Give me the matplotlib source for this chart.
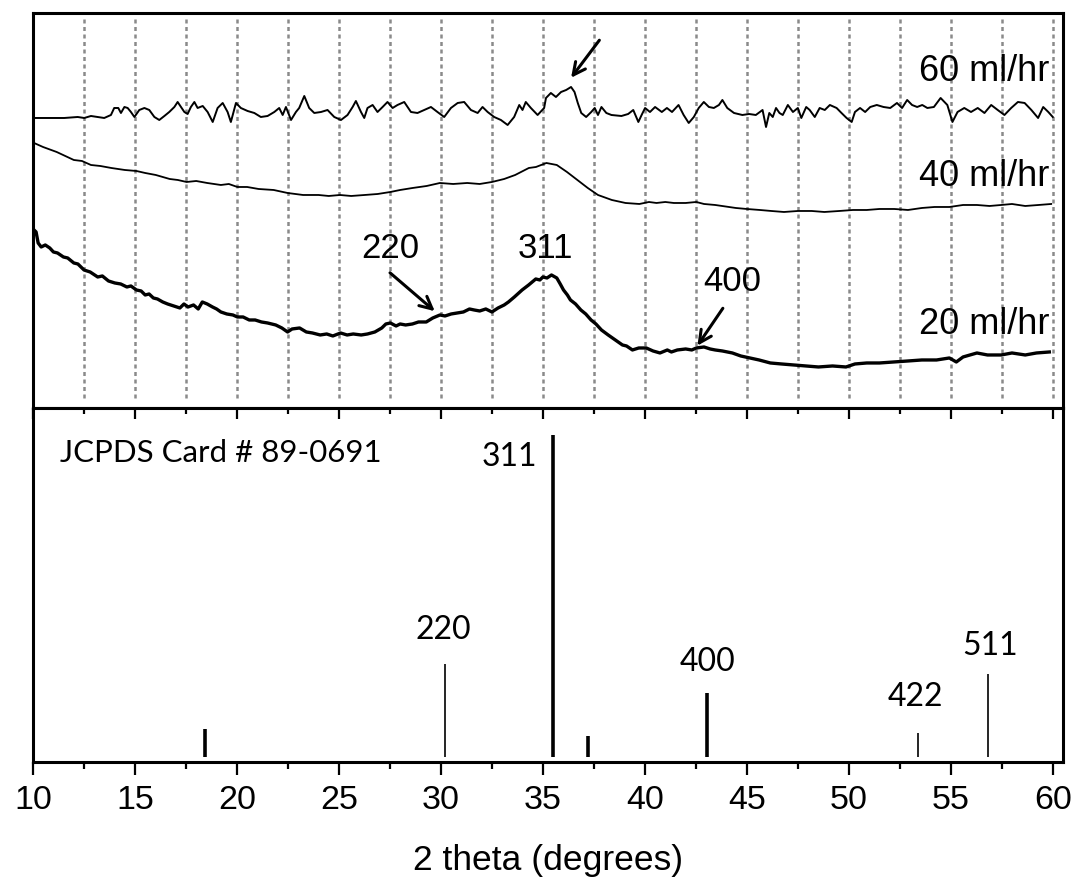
import numpy as np
import matplotlib.pyplot as plt
from matplotlib.ticker import MultipleLocator

# ---- measured traces (2 theta in degrees, intensity in arbitrary units) ----
x60 = [10.05, 11.53, 12.19, 12.51, 12.84, 13.17, 13.49, 13.82, 13.98, 14.18, 14.31, 14.48,
       14.64, 14.80, 14.97, 15.21, 15.46, 15.70, 15.95, 16.19, 16.44, 16.68, 16.93, 17.09,
       17.29, 17.42, 17.58, 17.74, 17.91, 18.07, 18.32, 18.56, 18.81, 19.05, 19.30, 19.54,
       19.70, 19.95, 20.19, 20.52, 20.85, 21.17, 21.50, 21.83, 22.07, 22.24, 22.40, 22.65,
       22.89, 23.05, 23.30, 23.54, 23.79, 24.12, 24.44, 24.77, 25.10, 25.42, 25.67, 25.83,
       26.08, 26.24, 26.40, 26.65, 26.89, 27.14, 27.38, 27.63, 27.87, 28.20, 28.53, 28.85,
       29.18, 29.51, 29.83, 30.16, 30.49, 30.82, 31.14, 31.47, 31.80, 32.04, 32.29, 32.61,
       32.94, 33.27, 33.59, 33.84, 34.00, 34.16, 34.41, 34.74, 35.06,
       35.15, 35.39, 35.64, 35.89, 36.14, 36.38, 36.55, 36.71, 36.88, 37.12, 37.37, 37.54,
       37.70, 37.87, 38.11, 38.36, 38.85, 39.18, 39.43, 39.68, 39.84, 40.01, 40.25, 40.50,
       40.83, 41.08, 41.33, 41.65, 41.90, 42.15, 42.40, 42.64, 42.89, 43.14, 43.38, 43.63,
       43.80, 44.04, 44.37, 44.78, 45.11, 45.44, 45.77, 45.94, 46.10, 46.27, 46.43, 46.60,
       46.76, 47.01, 47.26, 47.50, 47.67, 47.91, 48.08, 48.33, 48.57, 48.82, 49.07, 49.40,
       49.64, 49.89, 50.14, 50.30, 50.55, 50.80, 51.05, 51.37, 51.70, 52.03, 52.36, 52.61,
       52.86, 53.10, 53.35, 53.60, 53.85, 54.17, 54.50, 54.83, 55.08, 55.33, 55.66, 55.99,
       56.32, 56.65, 56.98, 57.30, 57.63, 57.96, 58.29, 58.62, 58.95, 59.28, 59.53, 59.78, 60.0]
y60 = [290, 290, 291, 290, 292, 291, 290, 293, 300, 300, 295, 301,
       300, 296, 291, 298, 300, 298, 291, 288, 292, 296, 301, 306,
       300, 296, 294, 301, 306, 300, 302, 296, 286, 300, 305, 296,
       286, 305, 300, 297, 295, 291, 292, 296, 300, 293, 301, 288,
       296, 300, 312, 300, 295, 296, 298, 291, 288, 293, 301, 307,
       296, 290, 300, 303, 296, 301, 306, 300, 303, 306, 296, 295,
       298, 301, 296, 291, 300, 305, 306, 298, 295, 301, 296, 291,
       288, 283, 291, 303, 298, 306, 300, 293, 300,
       310, 315, 311, 316, 318, 321, 316, 305, 295, 291, 296, 300,
       293, 301, 295, 293, 292, 294, 298, 286, 293, 300, 296, 301,
       296, 300, 296, 303, 293, 285, 291, 300, 306, 301, 300, 303,
       308, 300, 295, 293, 294, 293, 298, 281, 295, 291, 300, 295,
       293, 303, 296, 300, 290, 301, 298, 291, 300, 298, 303, 300,
       295, 290, 286, 296, 300, 296, 301, 303, 301, 300, 305, 300,
       308, 303, 301, 303, 300, 301, 310, 303, 286, 296, 300, 296,
       300, 295, 303, 298, 293, 300, 306, 305, 298, 290, 301, 296, 291]

x40 = [10.05, 10.49, 11.16, 12.0, 12.4, 12.84, 13.3, 13.84, 14.5, 15.07, 15.5, 16.02,
       16.7, 17.1, 17.53, 18.0, 18.54, 19.21, 19.6, 20.02, 20.5, 21.06, 21.8, 22.48,
       23.24, 24.0, 24.5, 25.05, 25.6, 26.26, 26.9, 27.52, 28.0, 28.61, 29.3, 29.95,
       30.6, 31.29, 31.9, 32.5, 33.1, 33.64, 34.31, 34.66, 35.17, 35.68, 36.18, 36.69,
       37.2, 37.7, 38.38, 39.05, 39.73, 40.2, 40.57, 41.0, 41.42, 42.0, 42.52, 42.9,
       43.45, 44.46, 45.0, 45.64, 46.2, 46.82, 47.5, 48.18, 48.8, 49.53, 50.2, 50.88,
       51.5, 52.23, 52.9, 53.58, 54.2, 54.93, 55.6, 56.28, 56.9, 57.47, 58.0, 58.65,
       59.3, 59.92]
y40 = [265, 261, 256, 248, 247, 243, 242, 240, 238, 237, 235, 233,
       229, 228, 226, 227, 225, 223, 224, 221, 221, 219, 218, 215,
       213, 213, 212, 213, 212, 213, 214, 216, 218, 220, 222, 225,
       224, 225, 224, 226, 229, 233, 240, 241, 245, 243, 236, 228,
       220, 213, 208, 205, 204, 206, 205, 206, 205, 205, 206, 204,
       203, 200, 199, 198, 197, 196, 197, 197, 196, 197, 198, 198,
       199, 199, 198, 200, 201, 201, 203, 203, 202, 203, 204, 202,
       203, 204]

x20 = [10.05, 10.15, 10.25, 10.4, 10.6, 10.82, 11.0, 11.2, 11.49, 11.7, 12.0, 12.2,
       12.5, 12.8, 13.17, 13.4, 13.7, 14.01, 14.3, 14.6, 14.8, 15.07, 15.3, 15.5,
       15.69, 15.9, 16.1, 16.36, 16.6, 16.9, 17.2, 17.4, 17.6, 17.87, 18.1, 18.3,
       18.54, 18.8, 19.0, 19.21, 19.5, 19.8, 20.02, 20.3, 20.6, 20.89, 21.2, 21.5,
       21.9, 22.2, 22.48, 22.7, 23.07, 23.4, 23.7, 24.08, 24.4, 24.7, 25.08, 25.4,
       25.7, 26.09, 26.4, 26.76, 27.1, 27.3, 27.52, 27.8, 28.0, 28.27, 28.6, 28.9,
       29.28, 29.6, 29.95, 30.2, 30.5, 30.79, 31.1, 31.4, 31.63, 31.9, 32.2, 32.5,
       32.8, 33.1, 33.31, 33.6, 33.98, 34.3, 34.65, 34.85, 35.0, 35.2, 35.42, 35.6,
       35.68, 35.85, 36.01, 36.2, 36.35, 36.6, 36.86, 37.1, 37.36, 37.6, 37.87, 38.2,
       38.55, 38.9, 39.1, 39.39, 39.7, 40.07, 40.4, 40.74, 41.1, 41.3, 41.59, 42.0,
       42.3, 42.52, 42.9, 43.2, 43.45, 43.8, 44.29, 44.7, 45.14, 45.6, 46.15, 46.7,
       47.33, 47.9, 48.51, 49.2, 49.86, 50.3, 50.88, 51.5, 52.23, 52.9, 53.58, 54.3,
       54.93, 55.27, 55.6, 56.28, 56.8, 57.47, 58.0, 58.65, 59.2, 59.83]
y20 = [178, 176, 165, 161, 163, 160, 156, 155, 151, 150, 145, 144,
       138, 136, 131, 132, 127, 125, 124, 121, 122, 118, 117, 113,
       114, 110, 109, 106, 104, 102, 100, 104, 101, 103, 99, 106,
       104, 101, 99, 96, 94, 93, 91, 91, 88, 88, 86, 85,
       83, 80, 76, 79, 80, 76, 75, 73, 74, 72, 75, 73,
       74, 73, 74, 76, 80, 84, 85, 82, 84, 83, 84, 86,
       86, 90, 93, 92, 94, 95, 96, 99, 98, 97, 99, 96,
       100, 103, 106, 111, 118, 123, 129, 128, 131, 130, 133, 131,
       130, 124, 118, 113, 108, 104, 98, 94, 88, 84, 78, 73,
       68, 63, 62, 58, 60, 60, 57, 55, 58, 56, 58, 59,
       58, 60, 61, 59, 58, 57, 55, 52, 50, 48, 45, 44,
       43, 42, 41, 42, 41, 44, 45, 45, 46, 47, 48, 48,
       50, 46, 51, 55, 53, 53, 55, 53, 55, 56]

# ---- JCPDS 89-0691 reference lines ----
ref_pos = [18.44, 30.2, 35.5, 37.19, 43.04, 53.41, 56.84]
ref_int = [10, 30, 100, 8, 21, 9, 27]
ref_bold = [True, False, True, True, True, False, False]

series = [("60 ml/hr", x60, y60, 1.4, 336),
          ("40 ml/hr", x40, y40, 1.3, 231),
          ("20 ml/hr", x20, y20, 2.4, 83)]

fig = plt.figure(figsize=(10.76, 8.9), dpi=100)
ax1 = fig.add_axes([0.0307, 0.5416, 0.9572, 0.4438])
ax2 = fig.add_axes([0.0307, 0.1438, 0.9572, 0.3978], sharex=ax1)

sans = "Liberation Sans"

# top panel
ax1.vlines(np.arange(12.5, 60.01, 2.5), 10, 392, colors="#8a8a8a",
           linestyles=(0, (1.6, 1.4)), linewidth=1.8)
for name, xs, ys, lw, ylab in series:
    ax1.plot(xs, ys, color="black", lw=lw)
    ax1.text(59.85, ylab, name, ha="right", va="center", fontsize=26, family=sans)

arrow = dict(arrowstyle="->", lw=2.2, color="black", mutation_scale=22)
ax1.annotate("", xy=(36.3, 328), xytext=(37.85, 370), arrowprops=arrow)
ax1.annotate("", xy=(29.8, 95), xytext=(27.4, 137), arrowprops=arrow)
ax1.annotate("", xy=(42.5, 60), xytext=(43.9, 102), arrowprops=arrow)
ax1.text(27.5, 159, "220", ha="center", va="center", fontsize=25, family=sans)
ax1.text(35.1, 159, "311", ha="center", va="center", fontsize=25, family=sans)
ax1.text(44.3, 126, "400", ha="center", va="center", fontsize=25, family=sans)

ax1.set_xlim(10, 60.5)
ax1.set_ylim(0, 395)
ax1.set_yticks([])
ax1.tick_params(axis="x", which="both", bottom=False, labelbottom=False)

# bottom panel
for pos, inten, bold in zip(ref_pos, ref_int, ref_bold):
    ax2.vlines(pos, 1.5, inten, color="black", lw=2.6 if bold else 1.2)

lato = "Lato"
ax2.text(33.35, 93.3, "311", ha="center", va="center", fontsize=23, family=lato)
ax2.text(30.1, 40.5, "220", ha="center", va="center", fontsize=23, family=lato)
ax2.text(43.05, 30.5, "400", ha="center", va="center", fontsize=23, family=lato)
ax2.text(53.27, 19.8, "422", ha="center", va="center", fontsize=23, family=lato)
ax2.text(56.94, 35.5, "511", ha="center", va="center", fontsize=23, family=lato)
ax2.text(11.3, 94.5, "JCPDS Card # 89-0691", ha="left", va="center", fontsize=22.5, family=lato)

ax2.set_ylim(0, 108.3)
ax2.set_yticks([])
ax2.xaxis.set_major_locator(MultipleLocator(5))
ax2.xaxis.set_minor_locator(MultipleLocator(2.5))
ax2.tick_params(axis="x", which="major", direction="out", length=9.5, width=1.6,
                labelsize=24.5, pad=7)
ax2.tick_params(axis="x", which="minor", direction="out", length=5, width=1.6)
for lab in ax2.get_xticklabels():
    lab.set_family(sans)
ax2.set_xlabel("2 theta (degrees)", fontsize=25.5, family=sans, labelpad=20)

# inward ticks on the panel divider
sec = ax2.secondary_xaxis("top")
sec.xaxis.set_major_locator(MultipleLocator(5))
sec.xaxis.set_minor_locator(MultipleLocator(2.5))
sec.tick_params(which="major", direction="in", length=8, width=1.6, labeltop=False)
sec.tick_params(which="minor", direction="in", length=4, width=1.6)
sec.spines["top"].set_visible(False)

for ax in (ax1, ax2):
    for sp in ax.spines.values():
        sp.set_linewidth(2.2)

fig.savefig("out.png", dpi=100)
